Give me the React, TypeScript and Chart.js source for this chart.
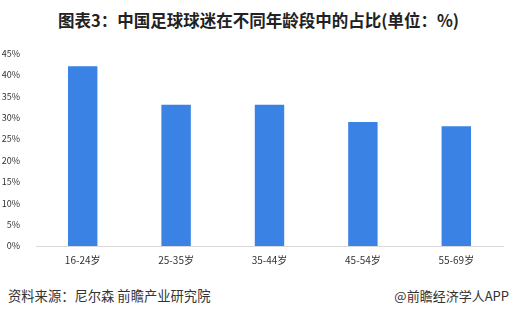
import React, { useEffect, useRef } from "react";
import { Chart, registerables } from "chart.js";

Chart.register(...registerables);

const categories = ["16-24岁", "25-35岁", "35-44岁", "45-54岁", "55-69岁"];
const shares = [42, 33, 33, 29, 28];
const yTicks = [0, 5, 10, 15, 20, 25, 30, 35, 40, 45];

const FONT = "'Noto Sans CJK SC', 'Noto Sans', sans-serif";

export default function App() {
  const canvasRef = useRef<HTMLCanvasElement | null>(null);

  useEffect(() => {
    if (!canvasRef.current) return;
    const chart = new Chart(canvasRef.current, {
      type: "bar",
      data: {
        labels: categories,
        datasets: [
          {
            data: shares,
            backgroundColor: "#3a82e3",
            categoryPercentage: 1,
            barPercentage: 0.315,
          },
        ],
      },
      options: {
        animation: false,
        responsive: false,
        maintainAspectRatio: false,
        layout: { padding: { top: 6, right: 14, bottom: 0, left: 0 } },
        plugins: {
          legend: { display: false },
          tooltip: { enabled: false },
        },
        scales: {
          x: {
            grid: { display: false },
            border: { display: true, color: "#d9d9d9", width: 1 },
            ticks: {
              color: "#333333",
              font: { family: FONT, size: 10 },
              padding: 0,
            },
          },
          y: {
            min: 0,
            max: 45,
            afterBuildTicks: (axis: any) => {
              axis.ticks = yTicks.map((v) => ({ value: v }));
            },
            afterFit: (axis: any) => {
              axis.width = 36;
            },
            grid: { display: false },
            border: { display: false },
            ticks: {
              color: "#333333",
              font: { family: FONT, size: 9 },
              padding: 8,
              callback: (v: any) => `${v}%`,
            },
          },
        },
      },
    });
    return () => chart.destroy();
  }, []);

  return (
    <div
      style={{
        position: "absolute",
        left: 0,
        top: 0,
        width: 517,
        height: 313,
        background: "#ffffff",
        fontFamily: FONT,
        overflow: "hidden",
      }}
    >
      <div
        style={{
          position: "absolute",
          left: 0,
          top: 8,
          width: 517,
          textAlign: "center",
          fontSize: 16.5,
          fontWeight: 700,
          color: "#222222",
          lineHeight: "24px",
        }}
      >
        图表3：中国足球球迷在不同年龄段中的占比(单位：%)
      </div>
      <canvas
        ref={canvasRef}
        width={517}
        height={226}
        style={{ position: "absolute", left: 0, top: 40, width: 517, height: 226 }}
      />
      <div
        style={{
          position: "absolute",
          left: 8,
          top: 287,
          fontSize: 13.3,
          color: "#333333",
          lineHeight: "18px",
        }}
      >
        资料来源：尼尔森 前瞻产业研究院
      </div>
      <div
        style={{
          position: "absolute",
          right: 8,
          top: 287,
          fontSize: 13,
          color: "#333333",
          lineHeight: "18px",
        }}
      >
        @前瞻经济学人APP
      </div>
    </div>
  );
}
